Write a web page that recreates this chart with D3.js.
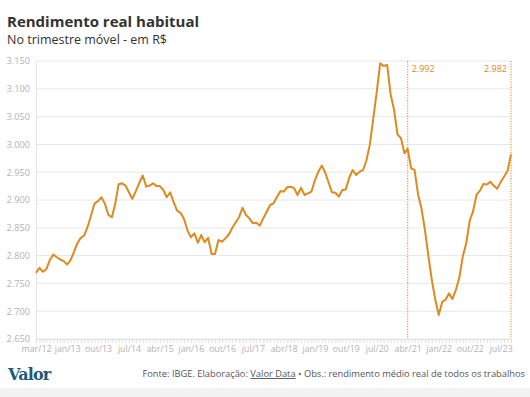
<!DOCTYPE html>
<html>
<head>
  <meta charset="utf-8">
  <title>Rendimento real habitual</title>
  <script src="https://d3js.org/d3.v7.min.js"></script>
  <style>
    body { margin: 0; background: #fff; font-family: "Open Sans", sans-serif; }
  </style>
</head>
<body>
  <svg id="chart"></svg>

  <script>
    // Rendimento real habitual, trimestre móvel, mar/12 a set/23 (R$)
    var startMonth = new Date(2012, 2, 1);
    var values = [
      2.769, 2.778, 2.771, 2.776, 2.792, 2.802, 2.797, 2.793, 2.790, 2.784,
      2.792, 2.807, 2.822, 2.832, 2.836, 2.852, 2.872, 2.894, 2.898, 2.905,
      2.893, 2.873, 2.869, 2.894, 2.928, 2.930, 2.926, 2.914, 2.902, 2.916,
      2.931, 2.944, 2.924, 2.926, 2.930, 2.925, 2.925, 2.918, 2.905, 2.914,
      2.896, 2.881, 2.877, 2.866, 2.845, 2.833, 2.840, 2.823, 2.837, 2.824,
      2.832, 2.803, 2.803, 2.828, 2.825, 2.831, 2.838, 2.850, 2.860, 2.870,
      2.886, 2.873, 2.867, 2.858, 2.859, 2.854, 2.867, 2.879, 2.891, 2.894,
      2.906, 2.916, 2.915, 2.923, 2.924, 2.921, 2.909, 2.922, 2.909, 2.912,
      2.915, 2.935, 2.951, 2.962, 2.950, 2.932, 2.914, 2.913, 2.906, 2.918,
      2.919, 2.940, 2.954, 2.945, 2.951, 2.954, 2.971, 3.000, 3.047, 3.095,
      3.146, 3.141, 3.143, 3.090, 3.062, 3.018, 3.011, 2.984, 2.992, 2.957,
      2.954, 2.910, 2.885, 2.846, 2.798, 2.756, 2.720, 2.693, 2.717, 2.721,
      2.732, 2.722, 2.738, 2.760, 2.798, 2.822, 2.863, 2.880, 2.910, 2.917,
      2.929, 2.928, 2.933, 2.926, 2.920, 2.932, 2.942, 2.952, 2.982
    ];
    var xTickLabels = ["mar/12", "jan/13", "out/13", "jul/14", "abr/15", "jan/16", "out/16", "jul/17",
                       "abr/18", "jan/19", "out/19", "jul/20", "abr/21", "jan/22", "out/22", "jul/23"];
    var yTicks = [2.65, 2.70, 2.75, 2.80, 2.85, 2.90, 2.95, 3.00, 3.05, 3.10, 3.15];
    // pontos destacados (índice no array)
    var markers = [108, 138];

    var width = 530, height = 397;
    var margin = { top: 61, right: 19, bottom: 58, left: 36 };
    var orange = "#de8a1f";

    var data = values.map(function(v, i) {
      return { date: d3.timeMonth.offset(startMonth, i), value: v };
    });

    var svg = d3.select("#chart")
                .attr("width", width)
                .attr("height", height);

    var x = d3.scaleTime()
              .domain(d3.extent(data, d => d.date))
              .range([margin.left, width - margin.right]);
    var y = d3.scaleLinear()
              .domain([2.65, 3.15])
              .range([height - margin.bottom, margin.top]);

    // titulo
    svg.append("text").attr("x", 7).attr("y", 27)
       .attr("font-size", 15).attr("font-weight", "bold").attr("fill", "#333")
       .text("Rendimento real habitual");
    svg.append("text").attr("x", 7).attr("y", 44)
       .attr("font-size", 12.5).attr("fill", "#333")
       .text("No trimestre móvel - em R$");

    // grade
    svg.append("g")
       .selectAll("line")
       .data(yTicks)
       .enter().append("line")
       .attr("x1", margin.left).attr("x2", width - margin.right)
       .attr("y1", d => y(d)).attr("y2", d => y(d))
       .attr("stroke", "#e8e8e8").attr("stroke-width", 1);

    // eixo y
    var yAxis = svg.append("g")
       .attr("transform", "translate(" + margin.left + ",0)")
       .call(d3.axisLeft(y).tickValues(yTicks).tickSize(0).tickPadding(6)
               .tickFormat(d => d3.format(".3f")(d)));
    yAxis.select(".domain").attr("stroke", "#e3e3e3");
    yAxis.selectAll("text").attr("fill", "#b3b3b3").attr("font-size", 9.2)
         .attr("font-family", "Open Sans, sans-serif");

    // eixo x: marca por mes, rotulo a cada 9 meses
    var months = data.map(d => d.date);
    var xAxis = svg.append("g")
       .attr("transform", "translate(0," + y(2.65) + ")")
       .call(d3.axisBottom(x).tickValues(months).tickSize(4).tickPadding(3)
               .tickFormat(function(d, i) { return i % 9 === 0 ? xTickLabels[i / 9] : ""; }));
    xAxis.select(".domain").attr("stroke", "#e3e3e3");
    xAxis.selectAll("line").attr("stroke", "#dedede");
    xAxis.selectAll("text").attr("fill", "#b3b3b3").attr("font-size", 8.8)
         .attr("font-family", "Open Sans, sans-serif");

    // linhas verticais pontilhadas
    var mk = svg.append("g").selectAll("g")
       .data(markers)
       .enter().append("g");
    mk.append("line")
      .attr("x1", d => x(data[d].date)).attr("x2", d => x(data[d].date))
      .attr("y1", y(3.15)).attr("y2", y(2.65))
      .attr("stroke", orange).attr("stroke-width", 1.2)
      .attr("stroke-dasharray", "1,1.6");
    mk.append("text")
      .attr("x", (d, i) => x(data[d].date) + (i === 0 ? 4 : -4))
      .attr("y", y(3.15) + 11)
      .attr("text-anchor", (d, i) => i === 0 ? "start" : "end")
      .attr("font-size", 9).attr("fill", orange)
      .text(d => d3.format(".3f")(values[d]));

    // linha
    var line = d3.line()
                 .x(d => x(d.date))
                 .y(d => y(d.value));
    svg.append("path")
       .datum(data)
       .attr("d", line)
       .attr("fill", "none")
       .attr("stroke", orange)
       .attr("stroke-width", 2)
       .attr("stroke-linejoin", "round");

    // rodape
    svg.append("text").attr("x", 8).attr("y", 380)
       .attr("font-family", "DejaVu Serif, serif").attr("font-weight", "bold")
       .attr("font-size", 16).attr("fill", "#1e5a78")
       .attr("letter-spacing", -0.8)
       .text("Valor");
    var foot = svg.append("text").attr("x", 525).attr("y", 377)
       .attr("text-anchor", "end").attr("font-size", 9.3).attr("fill", "#555");
    foot.append("tspan").text("Fonte: IBGE. Elaboração: ");
    foot.append("tspan").attr("text-decoration", "underline").text("Valor Data");
    foot.append("tspan").text(" • Obs.: rendimento médio real de todos os trabalhos");

    svg.append("rect").attr("x", 0).attr("y", 388).attr("width", width).attr("height", 9)
       .attr("fill", "#f2f2f2");
  </script>
</body>
</html>
